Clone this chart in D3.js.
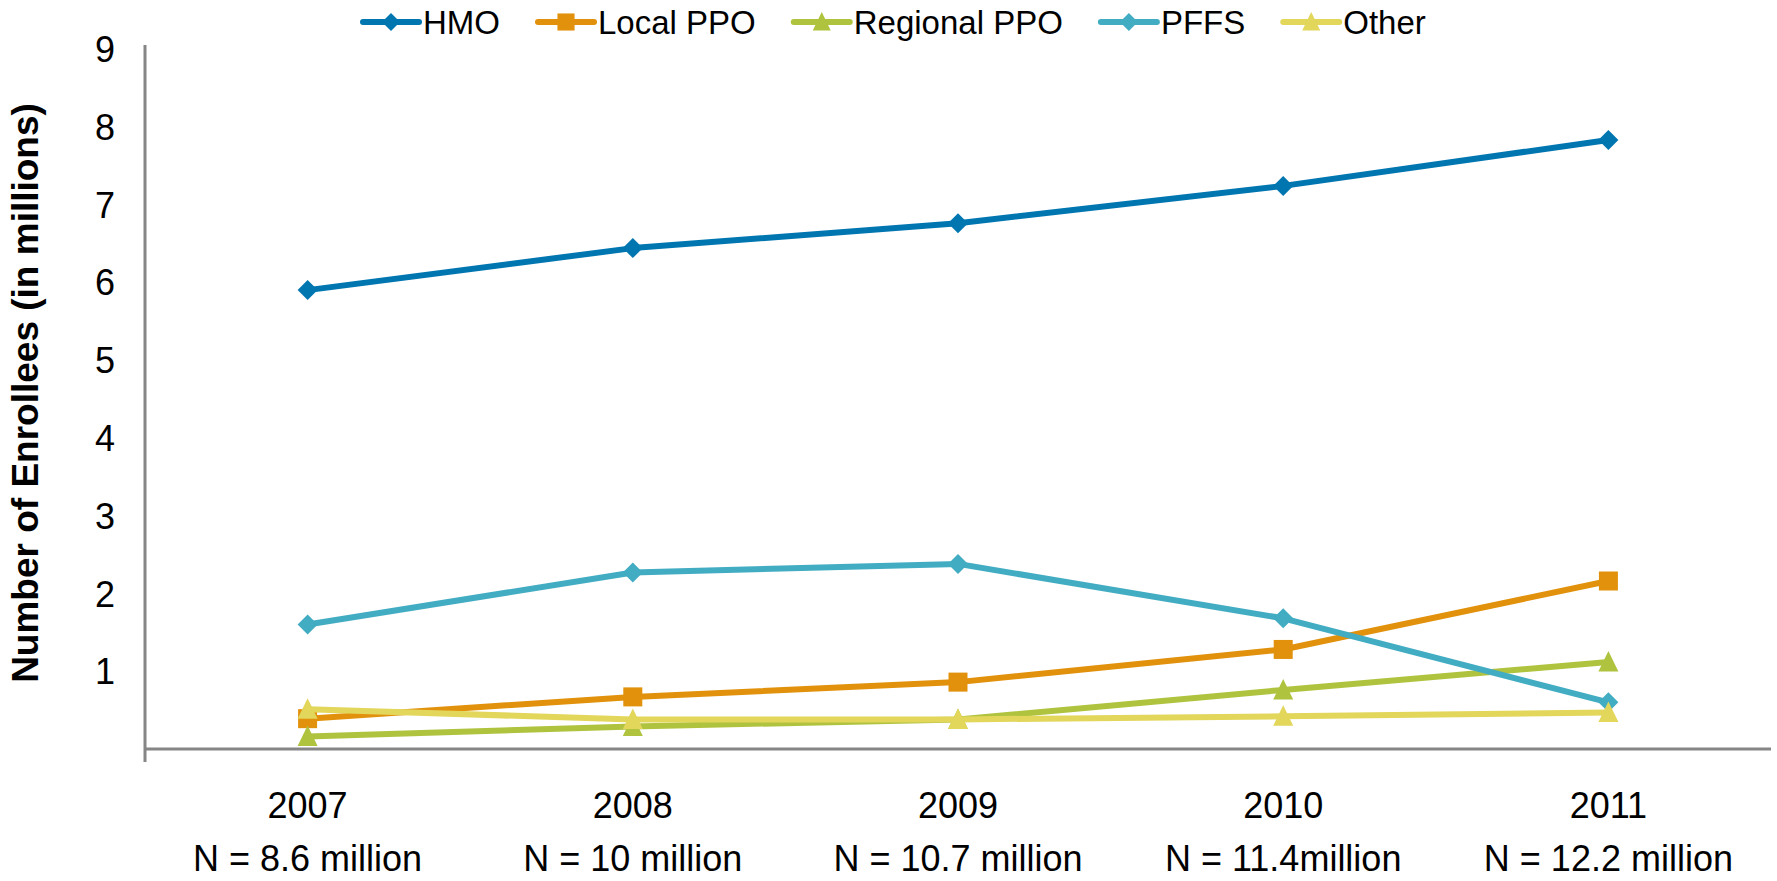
<!DOCTYPE html>
<html lang="en">
  <head>
    <meta charset="utf-8">
    <title>Medicare Advantage Enrollment by Plan Type</title>
    <script src="https://d3js.org/d3.v7.min.js"></script>
    <style>
      body { margin: 0; background: #fff; }
      text { font-family: "Liberation Sans", Arial, sans-serif; fill: #000; }
    </style>
  </head>
  <body>
    <div id="chart"></div>
    <script type="text/javascript">
      // values (millions of enrollees)
      const years = ["2007", "2008", "2009", "2010", "2011"];
      const totals = ["N = 8.6 million", "N = 10 million", "N = 10.7 million", "N = 11.4million", "N = 12.2 million"];
      const hmo = [5.90, 6.44, 6.76, 7.24, 7.83];
      const localPpo = [0.39, 0.67, 0.86, 1.28, 2.16];
      const regionalPpo = [0.16, 0.29, 0.38, 0.76, 1.12];
      const pffs = [1.60, 2.27, 2.38, 1.68, 0.60];
      const other = [0.51, 0.38, 0.38, 0.42, 0.47];
      const yTicks = [1, 2, 3, 4, 5, 6, 7, 8, 9];

      const series = [
          {name: "HMO", values: hmo, color: "#0076b1", symbol: "diamond"},
          {name: "Local PPO", values: localPpo, color: "#e1910b", symbol: "square"},
          {name: "Regional PPO", values: regionalPpo, color: "#b0c33f", symbol: "triangle"},
          {name: "PFFS", values: pffs, color: "#42acc2", symbol: "diamond"},
          {name: "Other", values: other, color: "#e2d65b", symbol: "triangle"}
      ];

      function drawChart() {
          let svgWidth = 1777,
              svgHeight = 881;

          let margin = { top: 49, right: 6, bottom: 132, left: 145 },
              width = svgWidth - margin.left - margin.right,
              height = svgHeight - margin.top - margin.bottom;

          let root = d3.select("#chart")
              .append("svg")
              .attr("width", svgWidth)
              .attr("height", svgHeight);

          let svg = root.append("g")
              .attr("transform", "translate(" + margin.left + "," + margin.top + ")");

          let x = d3.scaleBand()
              .domain(years)
              .range([0, width]);

          let y = d3.scaleLinear()
              .domain([0, 9])
              .range([height, 0]);

          // y axis labels (no tick marks)
          let yAxis = svg.append("g")
              .call(d3.axisLeft(y).tickValues(yTicks).tickSize(0).tickPadding(30));
          yAxis.select(".domain").remove();
          yAxis.selectAll("text")
              .style("font-size", "36px")
              .attr("dy", "0.35em");

          // axis lines
          svg.append("line")
              .attr("x1", 0).attr("x2", 0)
              .attr("y1", y(9) - 4).attr("y2", height + 13)
              .attr("stroke", "#868686").attr("stroke-width", 3);
          svg.append("line")
              .attr("x1", 0).attr("x2", width)
              .attr("y1", height).attr("y2", height)
              .attr("stroke", "#868686").attr("stroke-width", 3);

          // category labels
          let xAxis = svg.append("g")
              .attr("transform", "translate(0," + height + ")")
              .call(d3.axisBottom(x).tickSize(0).tickPadding(43));
          xAxis.select(".domain").remove();
          xAxis.selectAll("text")
              .style("font-size", "36px");

          svg.append("g")
              .selectAll("text")
              .data(totals)
              .join("text")
              .attr("x", (d, i) => x(years[i]) + x.bandwidth() / 2)
              .attr("y", height + 122)
              .attr("text-anchor", "middle")
              .style("font-size", "36px")
              .text(d => d);

          // y axis title
          root.append("text")
              .attr("transform", "translate(38," + (margin.top + height / 2 - 6) + ") rotate(-90)")
              .attr("text-anchor", "middle")
              .style("font-size", "37px")
              .style("font-weight", "bold")
              .text("Number of Enrollees (in millions)");

          let cx = i => x(years[i]) + x.bandwidth() / 2;

          let line = d3.line()
              .x((d, i) => cx(i))
              .y(d => y(d));

          function marker(sel, symbol, color, s) {
              if (symbol === "diamond") {
                  sel.append("path")
                      .attr("d", "M0," + (-s) + "L" + s + ",0L0," + s + "L" + (-s) + ",0Z")
                      .attr("fill", color);
              } else if (symbol === "square") {
                  sel.append("rect")
                      .attr("x", -s * 0.95).attr("y", -s * 0.95)
                      .attr("width", s * 1.9).attr("height", s * 1.9)
                      .attr("fill", color);
              } else {
                  sel.append("path")
                      .attr("d", "M0," + (-s * 1.1) + "L" + s + "," + (s * 0.95) + "L" + (-s) + "," + (s * 0.95) + "Z")
                      .attr("fill", color);
              }
          }

          series.forEach(s => {
              let g = svg.append("g");
              g.append("path")
                  .datum(s.values)
                  .attr("d", line)
                  .attr("fill", "none")
                  .attr("stroke", s.color)
                  .attr("stroke-width", 6)
                  .attr("stroke-linejoin", "round");

              g.selectAll("g.pt")
                  .data(s.values)
                  .join("g")
                  .attr("class", "pt")
                  .attr("transform", (d, i) => "translate(" + cx(i) + "," + y(d) + ")")
                  .each(function() { marker(d3.select(this), s.symbol, s.color, 10); });
          });

          // legend
          let legend = root.append("g")
              .attr("transform", "translate(0,22)");
          let lx = 363;
          series.forEach(s => {
              let item = legend.append("g")
                  .attr("transform", "translate(" + lx + ",0)");
              item.append("line")
                  .attr("x1", 0).attr("x2", 56)
                  .attr("y1", 0).attr("y2", 0)
                  .attr("stroke", s.color)
                  .attr("stroke-width", 6)
                  .attr("stroke-linecap", "round");
              marker(item.append("g").attr("transform", "translate(28,0)"), s.symbol, s.color, 9);
              let t = item.append("text")
                  .attr("x", 60)
                  .attr("dy", "0.35em")
                  .style("font-size", "33px")
                  .text(s.name);
              lx += 60 + t.node().getComputedTextLength() + 38;
          });
      }

      drawChart();
    </script>
  </body>
</html>
